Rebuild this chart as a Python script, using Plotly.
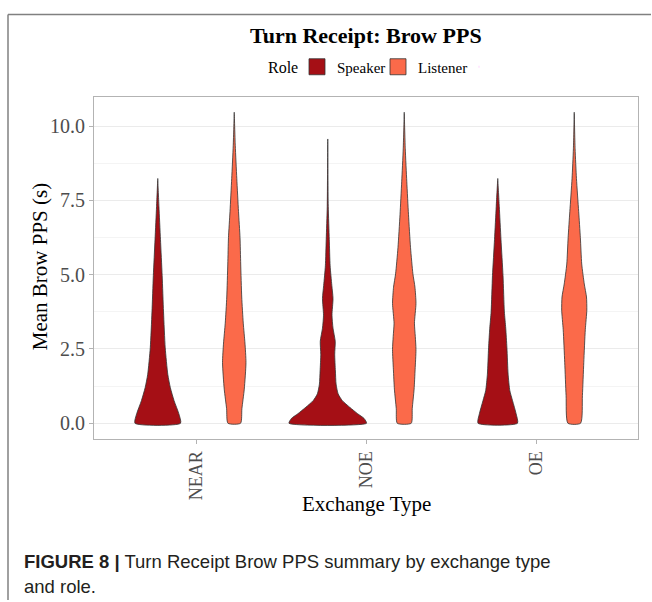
import plotly.graph_objects as go

# ---- data ----
exchange_types = ["NEAR", "NOE", "OE"]
roles = ["Speaker", "Listener"]
role_colors = {"Speaker": "#A50F15", "Listener": "#FB6A4A"}

# violin profiles: y levels (s) and half-widths (in category-axis units)
near_speaker_y = [0, 0.32, 0.76, 1.2, 1.65, 2.54, 3.75, 4.97, 6.19, 7.3, 8.24]
near_speaker_w = [0.134, 0.124, 0.096, 0.074, 0.059, 0.044, 0.034, 0.026, 0.016, 0.007, 0]
near_listener_y = [0, 0.49, 1.15, 2.04, 2.7, 3.37, 4.25, 5.36, 6.25, 7.13, 8.24, 9.35, 10.47]
near_listener_w = [0.037, 0.045, 0.059, 0.069, 0.063, 0.053, 0.044, 0.038, 0.034, 0.025, 0.015, 0.006, 0]
noe_speaker_y = [0, 0.16, 0.32, 0.54, 0.76, 0.99, 1.32, 1.76, 2.32, 2.76, 3.2, 3.64, 4.2, 4.64, 5.3, 6.19, 7.3, 9.57]
noe_speaker_w = [0.228, 0.214, 0.176, 0.129, 0.086, 0.061, 0.049, 0.045, 0.041, 0.044, 0.031, 0.025, 0.031, 0.024, 0.014, 0.009, 0.003, 0]
noe_listener_y = [0, 0.49, 1.15, 1.82, 2.48, 2.92, 3.37, 4.03, 4.58, 5.03, 5.91, 7.02, 8.13, 9.24, 10.47]
noe_listener_w = [0.041, 0.047, 0.058, 0.064, 0.069, 0.065, 0.06, 0.069, 0.063, 0.051, 0.037, 0.025, 0.015, 0.006, 0]
oe_speaker_y = [0, 0.32, 0.76, 1.1, 1.65, 2.54, 3.2, 3.75, 4.97, 6.19, 7.3, 8.24]
oe_speaker_w = [0.116, 0.108, 0.087, 0.071, 0.061, 0.054, 0.047, 0.039, 0.031, 0.019, 0.009, 0]
oe_listener_y = [0, 0.93, 2.04, 3.15, 3.81, 4.25, 4.69, 5.36, 6.25, 7.13, 8.24, 9.24, 10.47]
oe_listener_w = [0.037, 0.048, 0.056, 0.065, 0.074, 0.072, 0.059, 0.044, 0.036, 0.026, 0.013, 0.005, 0]

profiles = {
    ("NEAR", "Speaker"): (near_speaker_y, near_speaker_w),
    ("NEAR", "Listener"): (near_listener_y, near_listener_w),
    ("NOE", "Speaker"): (noe_speaker_y, noe_speaker_w),
    ("NOE", "Listener"): (noe_listener_y, noe_listener_w),
    ("OE", "Speaker"): (oe_speaker_y, oe_speaker_w),
    ("OE", "Listener"): (oe_listener_y, oe_listener_w),
}

y_ticks = [0, 2.5, 5, 7.5, 10]
dodge = {"Speaker": -0.225, "Listener": 0.225}

# ---- layout geometry (pixels) ----
W, H = 652, 602
L, R, T, B = 94, 638, 92, 439


def px(xp):
    return (xp - L) / (R - L)


def py(yp):
    return (B - yp) / (B - T)


fig = go.Figure()

for i, et in enumerate(exchange_types, start=1):
    for role in roles:
        ys, ws = profiles[(et, role)]
        c = i + dodge[role]
        xs = [c + w for w in ws] + [c - w for w in reversed(ws)]
        yy = list(ys) + list(reversed(ys))
        xs.append(xs[0])
        yy.append(yy[0])
        fig.add_trace(go.Scatter(
            x=xs, y=yy, mode="lines", fill="toself",
            fillcolor=role_colors[role],
            line=dict(color="#333333", width=0.8, shape="spline", smoothing=0.6),
            showlegend=False, hoverinfo="skip",
        ))

for role in roles:
    fig.add_trace(go.Scatter(
        x=[None], y=[None], mode="markers", name=role,
        marker=dict(symbol="square", size=16, color=role_colors[role],
                    line=dict(color="#333333", width=0.8)),
    ))
# invisible spacer entry so the last legend label is not clipped
fig.add_trace(go.Scatter(
    x=[None], y=[None], mode="markers", name=" ",
    marker=dict(symbol="square", size=1, opacity=0), hoverinfo="skip",
))

serif = "Liberation Serif"

fig.update_layout(
    width=W, height=H,
    margin=dict(l=L, r=W - R, t=T, b=H - B),
    paper_bgcolor="white", plot_bgcolor="white",
    font=dict(family=serif, color="#000000"),
    showlegend=True,
    legend=dict(
        orientation="h", xref="paper", yref="container",
        x=px(297), xanchor="left", y=1 - 67 / H, yanchor="middle",
        font=dict(family=serif, size=15, color="#000"),
        itemwidth=30, entrywidth=36, tracegroupgap=0,
        itemclick=False, itemdoubleclick=False,
    ),
    xaxis=dict(
        range=[0.4, 3.6], tickvals=[1, 2, 3], ticktext=exchange_types,
        tickangle=-90, showgrid=False, zeroline=False,
        ticks="outside", ticklen=4, tickcolor="#b3b3b3",
        showline=True, mirror=True, linecolor="#b3b3b3", linewidth=1,
        tickfont=dict(family=serif, size=18, color="#4d4d4d"),
    ),
    yaxis=dict(
        range=[-0.53, 11.0], tickvals=y_ticks, tickformat=".1f",
        showgrid=True, gridcolor="#ebebeb", gridwidth=1, zeroline=False,
        minor=dict(tick0=1.25, dtick=2.5, showgrid=True, gridcolor="#f4f4f4", gridwidth=1),
        ticks="outside", ticklen=4, tickcolor="#b3b3b3",
        showline=True, mirror=True, linecolor="#b3b3b3", linewidth=1,
        tickfont=dict(family=serif, size=20, color="#4d4d4d"),
    ),
    annotations=[
        dict(text="<b>Turn Receipt: Brow PPS</b>", xref="paper", yref="paper",
             x=px(366), y=py(30), xanchor="center", yanchor="middle", showarrow=False,
             font=dict(family=serif, size=22, color="#000")),
        dict(text="Role", xref="paper", yref="paper",
             x=px(283), y=py(63), xanchor="center", yanchor="middle", showarrow=False,
             font=dict(family=serif, size=16, color="#000")),
        dict(text="Mean Brow PPS (s)", xref="paper", yref="paper",
             x=px(40), y=py(265), xanchor="center", yanchor="middle", showarrow=False,
             textangle=-90, font=dict(family=serif, size=21, color="#000")),
        dict(text="Exchange Type", xref="paper", yref="paper",
             x=px(366), y=py(505), xanchor="center", yanchor="middle", showarrow=False,
             font=dict(family=serif, size=21, color="#000")),
        dict(text="<b>FIGURE 8 |</b> Turn Receipt Brow PPS summary by exchange type",
             xref="paper", yref="paper", x=px(22), y=py(563), xanchor="left", yanchor="middle",
             showarrow=False, font=dict(family="Liberation Sans", size=18.5, color="#231f20")),
        dict(text="and role.",
             xref="paper", yref="paper", x=px(22), y=py(588), xanchor="left", yanchor="middle",
             showarrow=False, font=dict(family="Liberation Sans", size=18.5, color="#231f20")),
    ],
    shapes=[
        dict(type="line", xref="paper", yref="paper", x0=px(8), x1=px(651), y0=py(9), y1=py(9),
             line=dict(color="#808080", width=1.5)),
        dict(type="line", xref="paper", yref="paper", x0=px(8), x1=px(8), y0=py(9), y1=py(602),
             line=dict(color="#808080", width=1.5)),
    ],
)

fig.write_html("out.html", config={"displayModeBar": False})
